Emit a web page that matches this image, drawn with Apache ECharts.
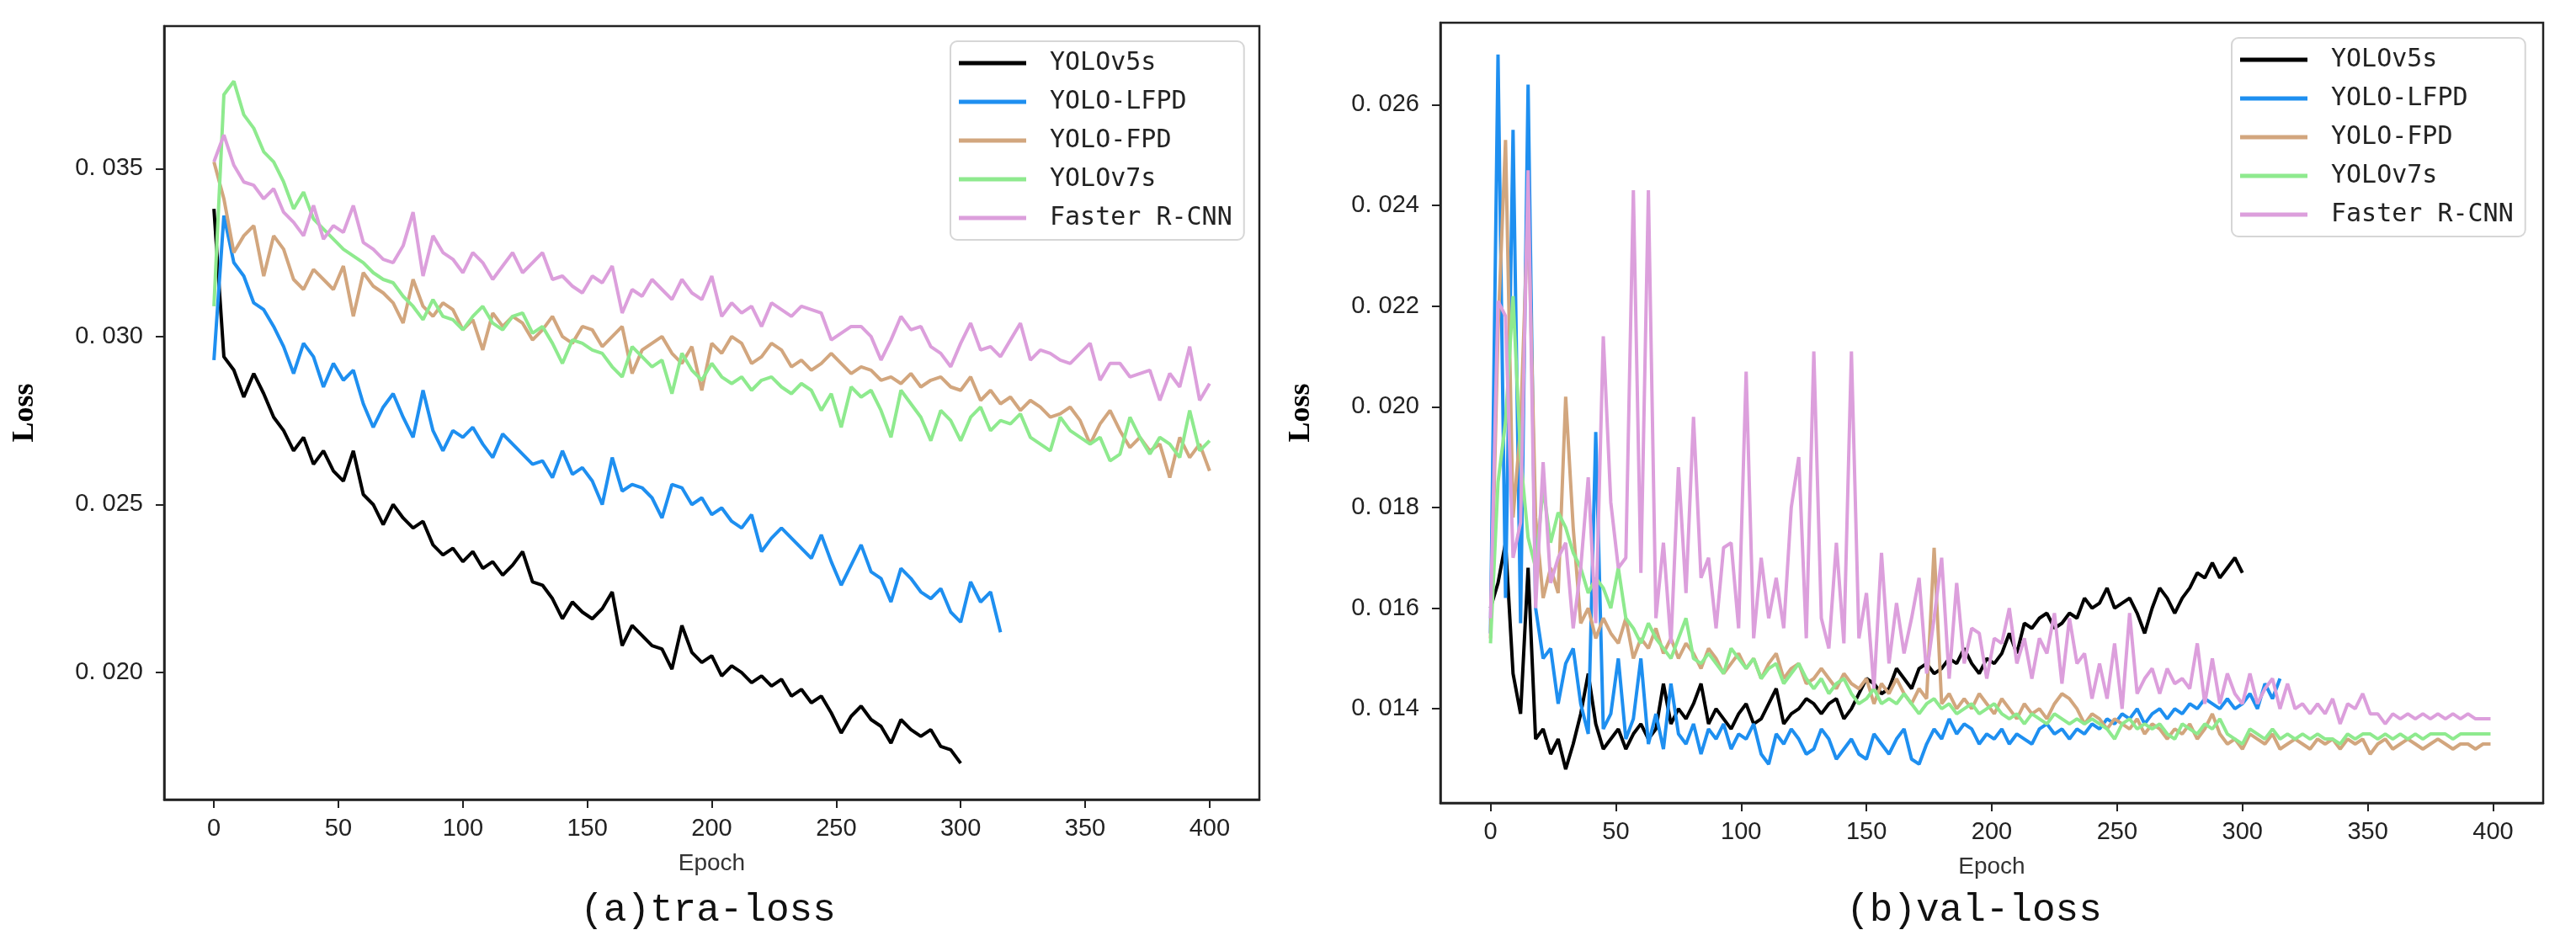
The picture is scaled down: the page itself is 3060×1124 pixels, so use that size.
<!DOCTYPE html>
<html><head><meta charset="utf-8">
<script src="https://cdn.jsdelivr.net/npm/echarts@6/dist/echarts.min.js"></script>
<style>html,body{margin:0;padding:0;background:#fff}#c{width:3060px;height:1124px}</style>
</head><body><div id="c"></div>
<script>
const seriesNames = ['YOLOv5s', 'YOLO-LFPD', 'YOLO-FPD', 'YOLOv7s', 'Faster R-CNN'];
const seriesColors = ['#000000', '#1E8FF0', '#D2A67E', '#8EEA8E', '#DC9FDC'];
const epochTicks = [0, 50, 100, 150, 200, 250, 300, 350, 400];
const traLossTicks = [0.020, 0.025, 0.030, 0.035];
const valLossTicks = [0.014, 0.016, 0.018, 0.020, 0.022, 0.024, 0.026];
const captions = ['(a)tra-loss', '(b)val-loss'];
const traStep = 4;   // epochs between stored training-loss readings
const valStep = 3;   // epochs between stored validation-loss readings

// ---- training loss (a) ----
const traYolov5s = [
0.0338,0.0294,0.0290,0.0282,0.0289,0.0283,0.0276,0.0272,0.0266,0.0270,
0.0262,0.0266,0.0260,0.0257,0.0266,0.0253,0.0250,0.0244,0.0250,0.0246,
0.0243,0.0245,0.0238,0.0235,0.0237,0.0233,0.0236,0.0231,0.0233,0.0229,
0.0232,0.0236,0.0227,0.0226,0.0222,0.0216,0.0221,0.0218,0.0216,0.0219,
0.0224,0.0208,0.0214,0.0211,0.0208,0.0207,0.0201,0.0214,0.0206,0.0203,
0.0205,0.0199,0.0202,0.0200,0.0197,0.0199,0.0196,0.0198,0.0193,0.0195,
0.0191,0.0193,0.0188,0.0182,0.0187,0.0190,0.0186,0.0184,0.0179,0.0186,
0.0183,0.0181,0.0183,0.0178,0.0177,0.0173];
const traYoloLfpd = [
0.0293,0.0336,0.0322,0.0318,0.0310,0.0308,0.0303,0.0297,0.0289,0.0298,
0.0294,0.0285,0.0292,0.0287,0.0290,0.0280,0.0273,0.0279,0.0283,0.0276,
0.0270,0.0284,0.0272,0.0266,0.0272,0.0270,0.0273,0.0268,0.0264,0.0271,
0.0268,0.0265,0.0262,0.0263,0.0258,0.0266,0.0259,0.0261,0.0257,0.0250,
0.0264,0.0254,0.0256,0.0255,0.0252,0.0246,0.0256,0.0255,0.0250,0.0252,
0.0247,0.0249,0.0245,0.0243,0.0247,0.0236,0.0240,0.0243,0.0240,0.0237,
0.0234,0.0241,0.0233,0.0226,0.0232,0.0238,0.0230,0.0228,0.0221,0.0231,
0.0228,0.0224,0.0222,0.0225,0.0218,0.0215,0.0227,0.0221,0.0224,0.0212];
const traYoloFpd = [
0.0352,0.0341,0.0325,0.0330,0.0333,0.0318,0.0330,0.0326,0.0317,0.0314,
0.0320,0.0317,0.0314,0.0321,0.0306,0.0319,0.0315,0.0313,0.0310,0.0304,
0.0317,0.0309,0.0306,0.0310,0.0308,0.0302,0.0305,0.0296,0.0307,0.0303,
0.0306,0.0304,0.0299,0.0302,0.0306,0.0300,0.0298,0.0303,0.0302,0.0297,
0.0300,0.0303,0.0289,0.0296,0.0298,0.0300,0.0295,0.0292,0.0297,0.0284,
0.0298,0.0295,0.0300,0.0298,0.0292,0.0294,0.0298,0.0296,0.0291,0.0293,
0.0290,0.0292,0.0295,0.0292,0.0289,0.0291,0.0290,0.0287,0.0288,0.0286,
0.0289,0.0285,0.0287,0.0288,0.0285,0.0284,0.0288,0.0281,0.0284,0.0280,
0.0282,0.0278,0.0281,0.0279,0.0276,0.0277,0.0279,0.0275,0.0268,0.0274,
0.0278,0.0272,0.0267,0.0270,0.0266,0.0268,0.0258,0.0270,0.0264,0.0268,
0.0260];
const traYolov7s = [
0.0309,0.0372,0.0376,0.0366,0.0362,0.0355,0.0352,0.0346,0.0338,0.0343,
0.0335,0.0332,0.0329,0.0326,0.0324,0.0322,0.0319,0.0317,0.0316,0.0312,
0.0309,0.0305,0.0311,0.0306,0.0305,0.0302,0.0306,0.0309,0.0304,0.0302,
0.0306,0.0307,0.0301,0.0303,0.0298,0.0292,0.0299,0.0298,0.0296,0.0295,
0.0291,0.0288,0.0297,0.0294,0.0291,0.0293,0.0283,0.0295,0.0290,0.0287,
0.0292,0.0288,0.0286,0.0288,0.0284,0.0287,0.0288,0.0285,0.0283,0.0286,
0.0284,0.0278,0.0283,0.0273,0.0285,0.0282,0.0284,0.0278,0.0270,0.0284,
0.0280,0.0276,0.0269,0.0278,0.0275,0.0269,0.0276,0.0279,0.0272,0.0275,
0.0274,0.0277,0.0270,0.0268,0.0266,0.0276,0.0272,0.0270,0.0268,0.0270,
0.0263,0.0265,0.0276,0.0270,0.0265,0.0270,0.0268,0.0264,0.0278,0.0266,
0.0269];
const traFasterRcnn = [
0.0352,0.0360,0.0351,0.0346,0.0345,0.0341,0.0344,0.0337,0.0334,0.0330,
0.0339,0.0329,0.0333,0.0331,0.0339,0.0328,0.0326,0.0323,0.0322,0.0327,
0.0337,0.0318,0.0330,0.0325,0.0323,0.0319,0.0325,0.0322,0.0317,0.0321,
0.0325,0.0319,0.0322,0.0325,0.0317,0.0318,0.0315,0.0313,0.0318,0.0316,
0.0321,0.0307,0.0314,0.0312,0.0317,0.0314,0.0311,0.0317,0.0313,0.0311,
0.0318,0.0306,0.0310,0.0307,0.0309,0.0303,0.0310,0.0308,0.0306,0.0309,
0.0308,0.0307,0.0299,0.0301,0.0303,0.0303,0.0300,0.0293,0.0299,0.0306,
0.0302,0.0303,0.0297,0.0295,0.0291,0.0298,0.0304,0.0296,0.0297,0.0294,
0.0299,0.0304,0.0293,0.0296,0.0295,0.0293,0.0292,0.0295,0.0298,0.0287,
0.0292,0.0292,0.0288,0.0289,0.0290,0.0281,0.0289,0.0285,0.0297,0.0281,
0.0286];

// ---- validation loss (b) ----
const valYolov5s = [
0.0160,0.0165,0.0173,0.0147,0.0139,0.0168,0.0134,0.0136,0.0131,0.0134,
0.0128,0.0133,0.0139,0.0147,0.0137,0.0132,0.0134,0.0136,0.0132,0.0135,
0.0137,0.0134,0.0136,0.0145,0.0137,0.0140,0.0138,0.0141,0.0145,0.0137,
0.0140,0.0138,0.0136,0.0139,0.0141,0.0137,0.0138,0.0141,0.0144,0.0137,
0.0139,0.0140,0.0142,0.0141,0.0139,0.0141,0.0142,0.0138,0.0140,0.0143,
0.0146,0.0145,0.0143,0.0144,0.0148,0.0146,0.0144,0.0148,0.0149,0.0147,
0.0148,0.0150,0.0149,0.0152,0.0149,0.0147,0.0150,0.0149,0.0151,0.0155,
0.0151,0.0157,0.0156,0.0158,0.0159,0.0156,0.0157,0.0159,0.0158,0.0162,
0.0160,0.0161,0.0164,0.0160,0.0161,0.0162,0.0159,0.0155,0.0160,0.0164,
0.0162,0.0159,0.0162,0.0164,0.0167,0.0166,0.0169,0.0166,0.0168,0.0170,
0.0167];
const valYoloLfpd = [
0.0155,0.0270,0.0162,0.0255,0.0157,0.0264,0.0160,0.0150,0.0152,0.0141,
0.0149,0.0152,0.0141,0.0135,0.0195,0.0136,0.0139,0.0150,0.0134,0.0138,
0.0150,0.0133,0.0139,0.0132,0.0145,0.0135,0.0133,0.0137,0.0131,0.0136,
0.0134,0.0137,0.0132,0.0135,0.0134,0.0137,0.0131,0.0129,0.0135,0.0133,
0.0136,0.0134,0.0131,0.0132,0.0136,0.0134,0.0130,0.0132,0.0134,0.0131,
0.0130,0.0135,0.0133,0.0131,0.0134,0.0136,0.0130,0.0129,0.0133,0.0136,
0.0134,0.0138,0.0135,0.0137,0.0136,0.0133,0.0135,0.0134,0.0136,0.0133,
0.0135,0.0134,0.0133,0.0136,0.0137,0.0135,0.0136,0.0134,0.0136,0.0135,
0.0137,0.0136,0.0138,0.0137,0.0139,0.0138,0.0140,0.0137,0.0139,0.0140,
0.0138,0.0140,0.0139,0.0141,0.0140,0.0142,0.0141,0.0140,0.0142,0.0140,
0.0141,0.0143,0.0140,0.0145,0.0142,0.0146];
const valYoloFpd = [
0.0154,0.0215,0.0253,0.0178,0.0196,0.0240,0.0178,0.0162,0.0168,0.0163,
0.0202,0.0176,0.0157,0.0160,0.0154,0.0158,0.0155,0.0153,0.0158,0.0150,
0.0154,0.0152,0.0156,0.0151,0.0154,0.0150,0.0153,0.0151,0.0148,0.0152,
0.0150,0.0147,0.0149,0.0151,0.0148,0.0150,0.0146,0.0149,0.0151,0.0146,
0.0148,0.0149,0.0145,0.0146,0.0148,0.0146,0.0144,0.0147,0.0145,0.0144,
0.0146,0.0141,0.0145,0.0143,0.0146,0.0143,0.0141,0.0144,0.0142,0.0172,
0.0141,0.0143,0.0140,0.0142,0.0140,0.0143,0.0141,0.0139,0.0142,0.0140,
0.0138,0.0141,0.0139,0.0140,0.0138,0.0141,0.0143,0.0142,0.0140,0.0137,
0.0139,0.0138,0.0136,0.0138,0.0137,0.0136,0.0138,0.0135,0.0137,0.0136,
0.0134,0.0136,0.0135,0.0137,0.0134,0.0136,0.0139,0.0135,0.0133,0.0134,
0.0132,0.0135,0.0134,0.0133,0.0135,0.0132,0.0133,0.0134,0.0133,0.0132,
0.0134,0.0133,0.0134,0.0132,0.0134,0.0133,0.0134,0.0131,0.0133,0.0134,
0.0132,0.0133,0.0134,0.0133,0.0132,0.0133,0.0134,0.0133,0.0132,0.0133,
0.0133,0.0132,0.0133,0.0133];
const valYolov7s = [
0.0153,0.0185,0.0197,0.0222,0.0190,0.0174,0.0168,0.0184,0.0173,0.0179,
0.0176,0.0171,0.0168,0.0163,0.0166,0.0164,0.0160,0.0168,0.0158,0.0156,
0.0153,0.0157,0.0154,0.0152,0.0150,0.0154,0.0158,0.0150,0.0149,0.0151,
0.0149,0.0147,0.0152,0.0150,0.0148,0.0150,0.0146,0.0148,0.0149,0.0145,
0.0147,0.0149,0.0146,0.0144,0.0146,0.0143,0.0145,0.0146,0.0143,0.0141,
0.0142,0.0144,0.0141,0.0142,0.0141,0.0143,0.0141,0.0139,0.0141,0.0142,
0.0140,0.0141,0.0139,0.0140,0.0141,0.0139,0.0140,0.0141,0.0139,0.0138,
0.0139,0.0137,0.0139,0.0138,0.0137,0.0139,0.0138,0.0137,0.0138,0.0137,
0.0138,0.0137,0.0136,0.0134,0.0137,0.0138,0.0136,0.0137,0.0136,0.0137,
0.0135,0.0134,0.0137,0.0136,0.0135,0.0137,0.0136,0.0138,0.0135,0.0134,
0.0133,0.0136,0.0135,0.0134,0.0136,0.0134,0.0135,0.0134,0.0135,0.0134,
0.0135,0.0134,0.0134,0.0133,0.0135,0.0134,0.0135,0.0135,0.0134,0.0135,
0.0134,0.0135,0.0134,0.0135,0.0134,0.0135,0.0135,0.0135,0.0134,0.0135,
0.0135,0.0135,0.0135,0.0135];
const valFasterRcnn = [
0.0158,0.0221,0.0218,0.0170,0.0177,0.0247,0.0160,0.0189,0.0165,0.0170,
0.0173,0.0156,0.0168,0.0186,0.0157,0.0214,0.0181,0.0168,0.0170,0.0243,
0.0167,0.0243,0.0158,0.0173,0.0153,0.0188,0.0163,0.0198,0.0166,0.0170,
0.0156,0.0172,0.0173,0.0156,0.0207,0.0154,0.0170,0.0158,0.0166,0.0156,
0.0180,0.0190,0.0154,0.0211,0.0158,0.0152,0.0173,0.0153,0.0211,0.0154,
0.0163,0.0144,0.0171,0.0149,0.0161,0.0151,0.0158,0.0166,0.0147,0.0158,
0.0170,0.0146,0.0165,0.0149,0.0156,0.0155,0.0146,0.0154,0.0153,0.0160,
0.0149,0.0154,0.0146,0.0154,0.0151,0.0159,0.0145,0.0158,0.0149,0.0151,
0.0142,0.0149,0.0142,0.0153,0.0140,0.0159,0.0143,0.0146,0.0148,0.0143,
0.0148,0.0145,0.0146,0.0144,0.0153,0.0141,0.0150,0.0141,0.0147,0.0143,
0.0141,0.0147,0.0141,0.0144,0.0146,0.0140,0.0145,0.0140,0.0141,0.0139,
0.0141,0.0139,0.0142,0.0137,0.0141,0.0140,0.0143,0.0139,0.0139,0.0137,
0.0139,0.0138,0.0139,0.0138,0.0139,0.0138,0.0139,0.0138,0.0139,0.0138,
0.0139,0.0138,0.0138,0.0138];

const traSets = [traYolov5s, traYoloLfpd, traYoloFpd, traYolov7s, traFasterRcnn];
const valSets = [valYolov5s, valYoloLfpd, valYoloFpd, valYolov7s, valFasterRcnn];

function toPairs(values, step) { return values.map((v, i) => [i * step, v]); }

const tickFont = '"Liberation Sans", Arial, sans-serif';
const fmtLoss = v => v.toFixed(3).replace('.', '. ');

function makeX(gi) {
  return {
    type: 'value', gridIndex: gi, min: -20, max: 420,
    axisLine: { show: true, onZero: false, lineStyle: { color: '#222', width: 2.5 } },
    axisTick: { show: true, customValues: epochTicks, length: 10, lineStyle: { color: '#222', width: 2 } },
    axisLabel: { customValues: epochTicks, fontSize: 29, color: '#222', margin: 20, fontFamily: tickFont },
    splitLine: { show: false },
    name: 'Epoch', nameLocation: 'middle', nameGap: 62,
    nameTextStyle: { fontSize: 28, color: '#333', fontFamily: tickFont }
  };
}
function makeY(gi, min, max, ticks) {
  return {
    type: 'value', gridIndex: gi, min: min, max: max,
    axisLine: { show: true, onZero: false, lineStyle: { color: '#222', width: 2.5 } },
    axisTick: { show: true, customValues: ticks, length: 10, lineStyle: { color: '#222', width: 2 } },
    axisLabel: { customValues: ticks, fontSize: 29, color: '#222', margin: 25, fontFamily: tickFont, formatter: fmtLoss },
    splitLine: { show: false },
    name: 'Loss', nameLocation: 'middle', nameGap: 147, nameRotate: 90,
    nameTextStyle: { fontSize: 36, fontWeight: 'bold', color: '#000', fontFamily: '"Liberation Serif", "Times New Roman", serif' }
  };
}
function makeLegend(left, top) {
  return {
    orient: 'vertical', left: left, top: top, data: seriesNames,
    icon: 'rect', itemWidth: 80, itemHeight: 5, itemGap: 10,
    padding: [8, 14, 8, 10],
    backgroundColor: '#fff', borderColor: '#d6d6d6', borderWidth: 2, borderRadius: 8,
    textStyle: { fontFamily: '"DejaVu Sans Mono", monospace', fontSize: 30, color: '#222', lineHeight: 36, padding: [0, 0, 0, 23] },
    z: 10
  };
}

const series = [];
traSets.forEach((vals, k) => series.push({
  name: seriesNames[k], type: 'line', xAxisIndex: 0, yAxisIndex: 0,
  data: toPairs(vals, traStep), showSymbol: false, symbol: 'none',
  lineStyle: { width: 4, color: seriesColors[k] }, itemStyle: { color: seriesColors[k] },
  emphasis: { disabled: true }
}));
valSets.forEach((vals, k) => series.push({
  name: seriesNames[k], type: 'line', xAxisIndex: 1, yAxisIndex: 1,
  data: toPairs(vals, valStep), showSymbol: false, symbol: 'none',
  lineStyle: { width: 4, color: seriesColors[k] }, itemStyle: { color: seriesColors[k] },
  emphasis: { disabled: true }
}));

const chart = echarts.init(document.getElementById('c'), null, { renderer: 'canvas' });
chart.setOption({
  animation: false,
  backgroundColor: '#fff',
  grid: [
    { left: 195, top: 31, width: 1301, height: 919, show: true, borderColor: '#222', borderWidth: 2.5 },
    { left: 1711, top: 27, width: 1310, height: 927, show: true, borderColor: '#222', borderWidth: 2.5 }
  ],
  xAxis: [makeX(0), makeX(1)],
  yAxis: [makeY(0, 0.01622, 0.03924, traLossTicks), makeY(1, 0.01213, 0.02763, valLossTicks)],
  legend: [makeLegend(1129, 49), makeLegend(2651, 45)],
  series: series,
  graphic: [
    { type: 'text', x: 841, y: 1082, style: { text: captions[0], align: 'center', verticalAlign: 'middle', textAlign: 'center', textVerticalAlign: 'middle', fontSize: 46, fontFamily: '"Liberation Mono", monospace', fill: '#111' } },
    { type: 'text', x: 2345, y: 1082, style: { text: captions[1], align: 'center', verticalAlign: 'middle', textAlign: 'center', textVerticalAlign: 'middle', fontSize: 46, fontFamily: '"Liberation Mono", monospace', fill: '#111' } }
  ]
});
</script>
</body></html>
